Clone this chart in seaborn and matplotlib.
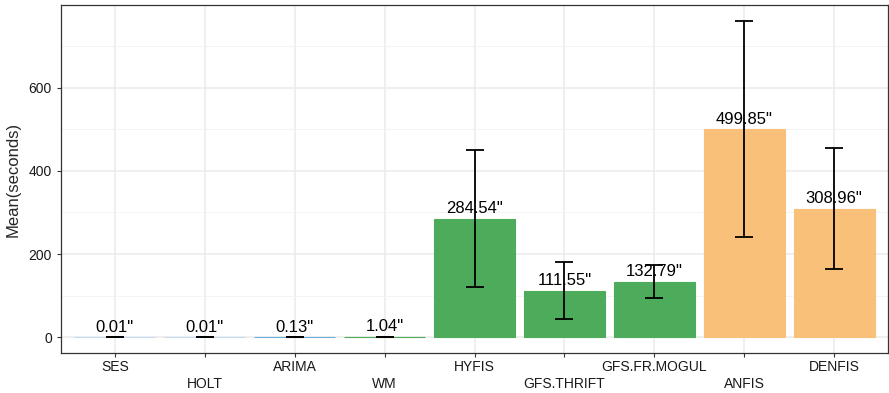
import matplotlib
matplotlib.use("Agg")
import matplotlib.pyplot as plt
import seaborn as sns
import pandas as pd
import numpy as np
from matplotlib.ticker import MultipleLocator

methods = ["SES", "HOLT", "ARIMA", "WM", "HYFIS", "GFS.THRIFT", "GFS.FR.MOGUL", "ANFIS", "DENFIS"]
means = [0.01, 0.01, 0.13, 1.04, 284.54, 111.55, 132.79, 499.85, 308.96]
err_low = [0.0, 0.0, 0.1, 0.8, 120, 43, 94, 242, 163]
err_high = [0.02, 0.02, 0.2, 1.3, 451, 180, 173, 761, 456]
colors = ["#C6DBEF", "#C6DBEF", "#6BAED6", "#4DAC57", "#4DAC5B", "#4DAC5B", "#4DAC5B", "#F9C07A", "#F9C07A"]

df = pd.DataFrame({"method": methods, "mean": means})

sns.set_theme(style="white")
plt.rcParams["font.family"] = ["Liberation Sans", "DejaVu Sans"]

fig = plt.figure(figsize=(8.89, 3.93), dpi=100)
ax = fig.add_axes([61/889, 40/393, 827/889, 348/393])

sns.barplot(data=df, x="method", y="mean", hue="method", palette=colors,
            legend=False, width=0.9, ax=ax, saturation=1, errorbar=None, zorder=2)
for patch, c in zip(ax.patches, colors):
    patch.set_edgecolor(c)
    patch.set_linewidth(0.8)

pos = np.arange(len(methods))
lo = np.array(means) - np.array(err_low)
hi = np.array(err_high) - np.array(means)
ax.errorbar(pos, means, yerr=[lo, hi], fmt="none", ecolor="black",
            elinewidth=1.3, capsize=6.8, capthick=1.3, zorder=4)

for p, m in zip(pos, means):
    ax.text(p, m + 6, f"{m:.2f}\"", ha="center", va="bottom", fontsize=12, color="black", zorder=5)

ax.set_xlim(-0.6, len(methods) - 0.4)
ax.set_ylim(-38, 799)
ax.yaxis.set_major_locator(MultipleLocator(200))
ax.yaxis.set_minor_locator(MultipleLocator(100))
ax.grid(True, which="major", color="#EBEBEB", linewidth=1.1, zorder=0)
ax.grid(True, which="minor", axis="y", color="#F2F2F2", linewidth=0.6, zorder=0)
ax.set_axisbelow(True)

ax.set_xticks(pos)
ax.set_xticklabels([("" if i % 2 == 0 else "\n") + m for i, m in enumerate(methods)],
                   fontsize=10, color="#1a1a1a", linespacing=1.3)
ax.tick_params(axis="y", labelsize=10, labelcolor="#1a1a1a")
ax.tick_params(axis="both", length=3, width=0.8, color="#333333", bottom=True, left=True)
ax.tick_params(axis="x", pad=2)
ax.set_xlabel("")
ax.set_ylabel("Mean(seconds)", fontsize=12, labelpad=6)
for s in ax.spines.values():
    s.set_color("#333333")
    s.set_linewidth(0.9)

fig.savefig("out.png", dpi=100)
